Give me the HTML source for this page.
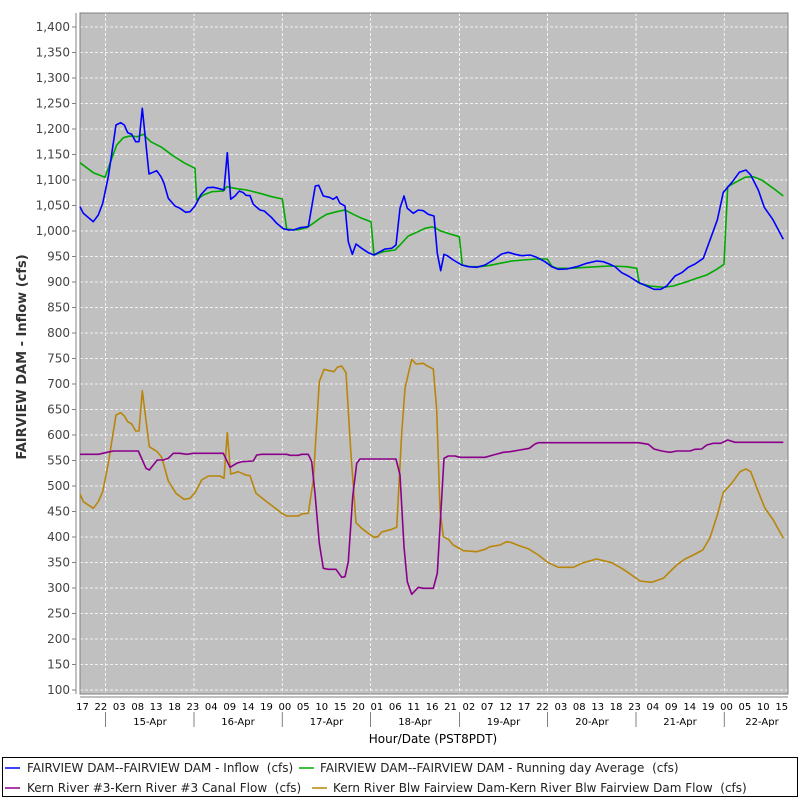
<!DOCTYPE html>
<html><head><meta charset="utf-8"><style>
html,body{margin:0;padding:0;background:#fff;}
svg{display:block;font-family:"DejaVu Sans","Liberation Sans",sans-serif;}
</style></head><body>
<svg width="800" height="800" viewBox="0 0 800 800" xmlns="http://www.w3.org/2000/svg">
<rect x="80" y="13" width="708" height="681" fill="#c0c0c0"/>
<g stroke="#ffffff" stroke-width="0.8" stroke-dasharray="3,2" fill="none">
<path d="M80 27H788M80 52.5H788M80 78H788M80 103.5H788M80 129H788M80 154.5H788M80 180H788M80 205.5H788M80 231H788M80 256.5H788M80 282H788M80 307.5H788M80 333H788M80 358.5H788M80 384H788M80 409.5H788M80 435H788M80 460.5H788M80 486H788M80 511.5H788M80 537H788M80 562.5H788M80 588H788M80 613.5H788M80 639H788M80 664.5H788M80 690H788"/>
<path d="M105.5 13V694M194 13V694M282.3 13V694M370.5 13V694M459.5 13V694M547.5 13V694M636 13V694M724.3 13V694"/>
</g>
<rect x="80" y="13" width="708" height="681" fill="none" stroke="#808080" stroke-width="1"/>
<line x1="76" y1="13" x2="76" y2="694" stroke="#808080"/>
<line x1="80" y1="697" x2="788" y2="697" stroke="#808080"/>
<g stroke="#808080"><path d="M72 27H76M72 52.5H76M72 78H76M72 103.5H76M72 129H76M72 154.5H76M72 180H76M72 205.5H76M72 231H76M72 256.5H76M72 282H76M72 307.5H76M72 333H76M72 358.5H76M72 384H76M72 409.5H76M72 435H76M72 460.5H76M72 486H76M72 511.5H76M72 537H76M72 562.5H76M72 588H76M72 613.5H76M72 639H76M72 664.5H76M72 690H76"/>
<path d="M105.5 712V727M194 712V727M282.3 712V727M370.5 712V727M459.5 712V727M547.5 712V727M636 712V727M724.3 712V727"/>
</g>
<g font-size="12" fill="#444" text-anchor="end">
<text x="70" y="31">1,400</text><text x="70" y="56.5">1,350</text><text x="70" y="82">1,300</text><text x="70" y="107.5">1,250</text><text x="70" y="133">1,200</text><text x="70" y="158.5">1,150</text><text x="70" y="184">1,100</text><text x="70" y="209.5">1,050</text><text x="70" y="235">1,000</text><text x="70" y="260.5">950</text><text x="70" y="286">900</text><text x="70" y="311.5">850</text><text x="70" y="337">800</text><text x="70" y="362.5">750</text><text x="70" y="388">700</text><text x="70" y="413.5">650</text><text x="70" y="439">600</text><text x="70" y="464.5">550</text><text x="70" y="490">500</text><text x="70" y="515.5">450</text><text x="70" y="541">400</text><text x="70" y="566.5">350</text><text x="70" y="592">300</text><text x="70" y="617.5">250</text><text x="70" y="643">200</text><text x="70" y="668.5">150</text><text x="70" y="694">100</text>
</g>
<g font-size="10" fill="#000" text-anchor="middle">
<text x="82.5" y="710">17</text><text x="100.9" y="710">22</text><text x="119.3" y="710">03</text><text x="137.7" y="710">08</text><text x="156.1" y="710">13</text><text x="174.5" y="710">18</text><text x="192.9" y="710">23</text><text x="211.3" y="710">04</text><text x="229.7" y="710">09</text><text x="248.1" y="710">14</text><text x="266.5" y="710">19</text><text x="284.9" y="710">00</text><text x="303.3" y="710">05</text><text x="321.7" y="710">10</text><text x="340.1" y="710">15</text><text x="358.5" y="710">20</text><text x="376.9" y="710">01</text><text x="395.3" y="710">06</text><text x="413.7" y="710">11</text><text x="432.1" y="710">16</text><text x="450.5" y="710">21</text><text x="468.9" y="710">02</text><text x="487.3" y="710">07</text><text x="505.7" y="710">12</text><text x="524.1" y="710">17</text><text x="542.5" y="710">22</text><text x="560.9" y="710">03</text><text x="579.3" y="710">08</text><text x="597.7" y="710">13</text><text x="616.1" y="710">18</text><text x="634.5" y="710">23</text><text x="652.9" y="710">04</text><text x="671.3" y="710">09</text><text x="689.7" y="710">14</text><text x="708.1" y="710">19</text><text x="726.5" y="710">00</text><text x="744.9" y="710">05</text><text x="763.3" y="710">10</text><text x="781.7" y="710">15</text>
<text x="150" y="725">15-Apr</text><text x="238" y="725">16-Apr</text><text x="326.5" y="725">17-Apr</text><text x="415" y="725">18-Apr</text><text x="503.5" y="725">19-Apr</text><text x="592" y="725">20-Apr</text><text x="680" y="725">21-Apr</text><text x="762" y="725">22-Apr</text>
</g>
<text x="433" y="743" font-size="12" fill="#000" text-anchor="middle">Hour/Date (PST8PDT)</text>
<text transform="translate(26,357) rotate(-90)" font-size="13" font-weight="bold" fill="#333" text-anchor="middle">FAIRVIEW DAM - Inflow (cfs)</text>
<g fill="none" stroke-width="1.6" stroke-linejoin="round">
<polyline stroke="#b8860b" points="80,494 83.3,501.7 93.3,508.3 98.3,501.7 102.7,491.7 108.3,463.3 116,415 120.7,412.7 124.3,416 127.7,421.7 131.7,424 135.7,431 139,431 142.3,390.7 149.3,446.7 157.3,451.7 161.7,457.3 168.3,481 176,493.3 184,499.3 190,498.3 195,492.7 201.7,480 208.3,476 220,476 224,478.3 227.3,432.7 230.7,474 238.3,471.7 245.7,475 250,475.7 256,493.3 261.7,497.7 266.7,501.7 276.7,509.3 281.7,513.3 286.7,516 298.3,516 301.7,514 308.3,513.3 313.3,480 319.3,381.7 324,369.3 329.3,370.7 334,371.7 337.3,367.3 341.7,366 346,372.7 350.7,450 356,522.7 361.7,528.3 368.3,533.3 374,537.3 377.7,536.7 381.7,532 386.7,530.7 391.7,529.3 396.7,527.3 401.7,433.3 405,388.3 411.7,359.3 416,364 423.3,363.3 426.7,365.7 433.3,369 436.7,410 440,510 443.3,536.7 448.3,539.3 453.3,545 463.3,550.7 476.7,551.7 485,549.3 490,546.7 500,545 506.7,541.7 511.7,542.7 520,546 528.3,548.7 538.3,555 548.3,562.7 558.3,567.3 573.3,567.3 583.3,562.7 596.7,559 611.7,562.7 621.7,568.3 628.3,572.7 640,581 651.7,582.3 663.3,578.3 676.7,565 685,559 693.3,555 702.7,550 710,537.7 717.3,515 723.3,492.3 731.7,483.3 740,471.7 746,469 750.7,471.7 758.3,491.7 765,508.3 773.3,520 783.3,538.3"/>
<polyline stroke="#8b008b" points="80,454.3 98.3,454.3 110,451.7 113.3,451 138.3,451 146,468.3 149.3,470 157.3,460 163.3,460 168.3,458.3 173.3,453.3 180,453.3 186.7,454.3 193.3,453.3 223.3,453.3 230,467.3 236.7,463.3 241.7,461.7 253.3,461 256.7,455 261.7,454.3 286.7,454.3 290,455.3 298.3,455.3 301.7,454.3 308.3,454.3 311.7,461.7 315,493.3 319.3,543.3 323.3,568.3 328.3,569.3 336,569.3 341.7,577.3 345,576.7 348.3,561.7 352.7,496.7 356.7,463.3 360,459 396,459 400,475 404,546.7 407.3,581.7 411.7,594.3 418.3,587.3 423.3,588.3 433.3,588.3 437.3,573.3 444,458.3 448.3,456 455,456 460,457.3 485,457.3 493.3,455 503.3,452.3 510,451.7 520,450 529.3,448.3 535,444 538.3,442.7 638.3,442.7 648.3,444.3 654,449 661.7,451 670,452.3 676.7,451 690,451 695,449.3 701.7,449 706.7,445 713.3,443.3 720.7,443.3 727.7,440 735,442.3 783.3,442.3"/>
<polyline stroke="#00aa00" points="80,162.7 93.3,172.7 105,177.3 110,163.3 116.7,145 123.3,137.7 130,136 137.3,136.7 143.3,134.3 150.7,141.7 161.7,147.3 173.3,156 185,163.3 195,168.3 196.7,200 203.3,195 211.7,191.7 223.3,191 226.7,186.7 236.7,188.7 246.7,190 260,193.3 271.7,196.7 282.3,199 286.7,229 296.7,230 306.7,227.7 313.3,223.3 320,218.3 326.7,214.3 336.7,211.7 345,210 353.3,214.3 361.7,218.3 371,221.7 374,255 383.3,251.7 395,250 400,245 408.3,236 416.7,232.3 425,228.3 431.7,227 435,227.7 440,230.7 450,234 459.3,236.7 462.3,265 470,266.7 480,266.7 490,265.3 500,263.3 511.7,261 523.3,260 536.7,259 547.3,259 551.7,266 556.7,268.3 570,268.3 586.7,267.3 596.7,266.7 610,266 626.7,266.7 636.7,268.3 639.3,283.3 650,286 663.3,287.3 673.3,286 686.7,281.7 696.7,278.3 706.7,275 716.7,269.3 724,264.3 727.7,186.7 736.7,181.7 745,177.3 753.3,176.7 761.7,180 773.3,188.3 783.3,196"/>
<polyline stroke="#0000ff" points="80,206.7 83.3,213.3 93.3,221.7 98.3,215 102.7,203.3 108.3,176.7 116,125 120.7,122.7 124.3,125 127.7,132.7 131.7,134.3 135.7,141.7 139,141.7 142.3,108.3 149,174 156.7,170.7 161,176.7 164,183.3 168.3,198.3 175,206 180,208.3 185.7,212.3 190,211.7 195,206 200.7,195 207.3,187.7 213.3,187.3 219.3,188.7 224,190 227.3,152.7 230.7,199.3 235,196 239.3,191 243.3,192.7 246,195.3 250,195.7 253.3,204.3 260,210 264.3,211 271.7,217.7 276.7,223.3 283.3,228.7 288.3,230 293.3,230 300,227.7 308.3,226.7 315.3,186 318.7,185.3 323.3,196 329.3,197.3 333.3,199.3 336.7,196.7 340,203.3 345,206 348.3,241.7 352.3,254.3 356,244 361.7,248.3 368.3,252.7 374,255 380,251.7 385,249 391.7,248.3 396,245 400,208.3 404,196 407.3,208.3 413.3,213.3 418.3,210 423.3,210.7 428.3,214.3 434,216 437.3,253.3 440.7,270.7 444,254.3 447.3,255.7 453.3,260 461.7,265 468.3,266.7 476.7,267.3 485,265 493.3,260 501.7,254 508.3,252.3 515,254.3 521.7,255.7 530,255 536.7,257.3 545,261.7 551.7,266.7 558.3,269.3 566.7,269 576.7,266.7 586.7,263.3 596.7,261 603.3,261.7 610,264.3 615,266.7 621.7,272.7 628.3,276 638.3,282.3 646.7,286 654,289.3 660.7,289.3 666.7,286 675,276 681.7,272.7 688.3,267.3 695,264 703.3,258.3 710,240 717.3,220 723.3,192.3 731.7,182.7 739.3,172.3 746,170 750.7,175 758.3,190 764.3,207.3 772.7,219.3 783.3,239.3"/>
</g>
<rect x="2.5" y="757.5" width="795" height="39" fill="#fff" stroke="#000"/>
<g stroke-width="1.5">
<line x1="5" y1="768" x2="20" y2="768" stroke="#0000ff"/>
<line x1="299" y1="768" x2="314" y2="768" stroke="#00aa00"/>
<line x1="5" y1="788" x2="20" y2="788" stroke="#8b008b"/>
<line x1="312" y1="788" x2="327" y2="788" stroke="#b8860b"/>
</g>
<g font-size="12" fill="#222">
<text x="27" y="772">FAIRVIEW DAM--FAIRVIEW DAM - Inflow &#160;(cfs)</text>
<text x="320" y="772">FAIRVIEW DAM--FAIRVIEW DAM - Running day Average &#160;(cfs)</text>
<text x="27" y="792">Kern River #3-Kern River #3 Canal Flow &#160;(cfs)</text>
<text x="333" y="792">Kern River Blw Fairview Dam-Kern River Blw Fairview Dam Flow &#160;(cfs)</text>
</g>
</svg>
</body></html>
